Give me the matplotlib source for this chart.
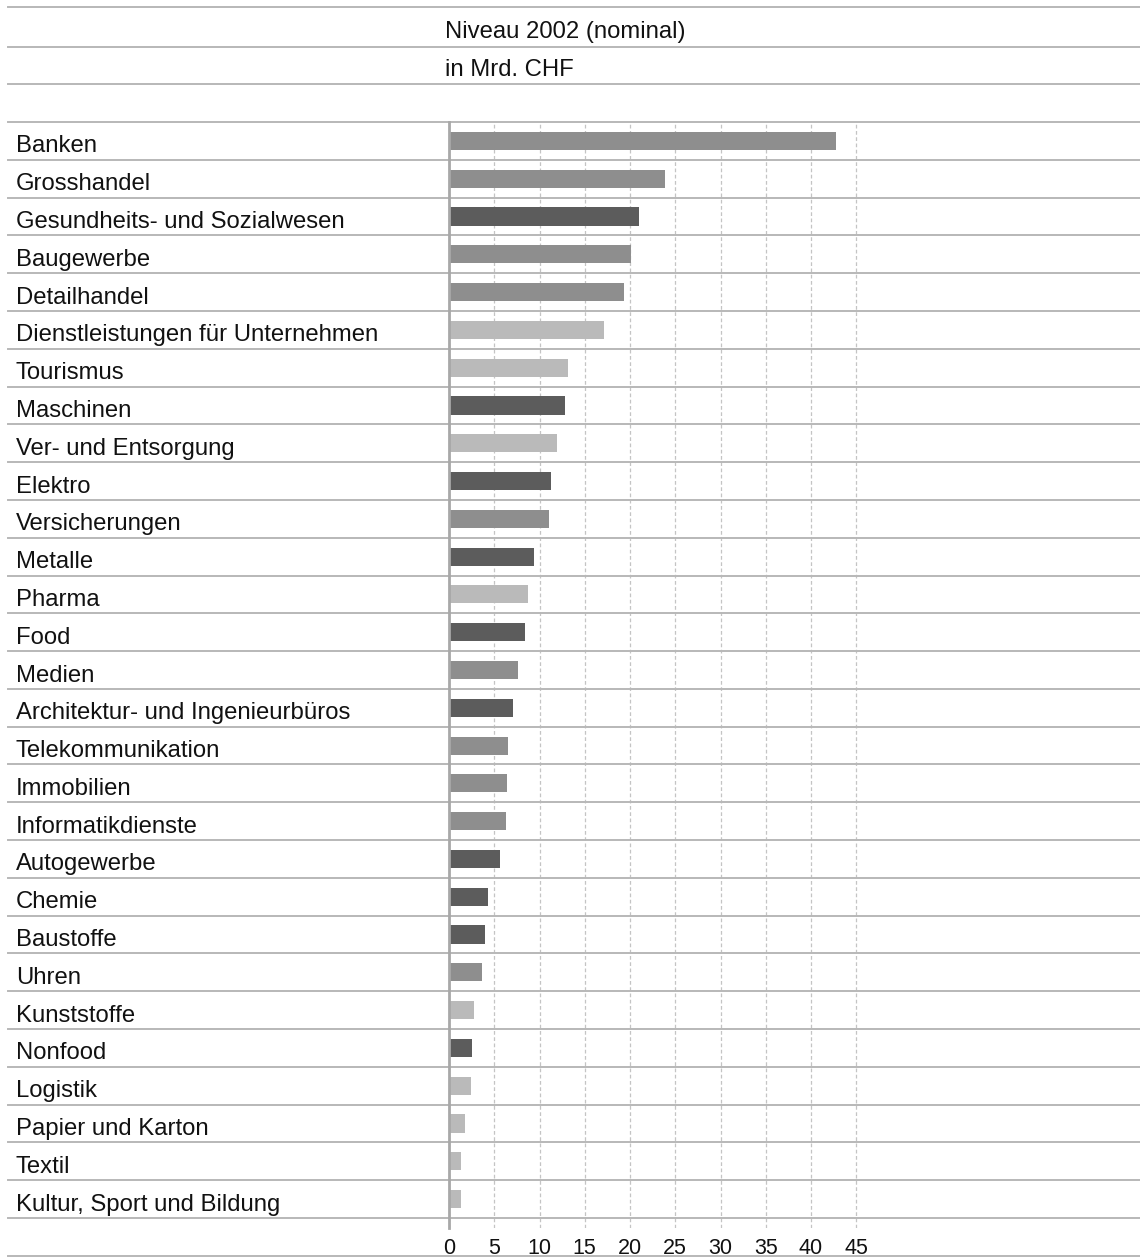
import matplotlib
matplotlib.use('Agg')
import matplotlib.pyplot as plt
import numpy as np

# sectors, nominal level 2002 in bn CHF
sectors = ['Banken', 'Grosshandel', 'Gesundheits- und Sozialwesen', 'Baugewerbe',
           'Detailhandel', 'Dienstleistungen für Unternehmen', 'Tourismus', 'Maschinen',
           'Ver- und Entsorgung', 'Elektro', 'Versicherungen', 'Metalle', 'Pharma', 'Food',
           'Medien', 'Architektur- und Ingenieurbüros', 'Telekommunikation', 'Immobilien',
           'Informatikdienste', 'Autogewerbe', 'Chemie', 'Baustoffe', 'Uhren',
           'Kunststoffe', 'Nonfood', 'Logistik', 'Papier und Karton', 'Textil',
           'Kultur, Sport und Bildung']
values = [42.8, 23.9, 21.0, 20.1, 19.3, 17.1, 13.1, 12.8, 11.9, 11.3, 11.0, 9.4, 8.7, 8.4,
          7.6, 7.1, 6.5, 6.4, 6.3, 5.6, 4.3, 4.0, 3.6, 2.8, 2.5, 2.4, 1.8, 1.3, 1.3]
# shading group of each bar (1 = mid grey, 2 = dark grey, 3 = light grey)
groups = [1, 1, 2, 1, 1, 3, 3, 2, 3, 2, 1, 2, 3, 2, 1, 2, 1, 1, 1, 2, 2, 2, 1, 3, 2, 3, 3, 3, 3]
xticks = [0, 5, 10, 15, 20, 25, 30, 35, 40, 45]

group_colors = {1: '#8e8e8e', 2: '#5c5c5c', 3: '#bababa'}
line_col = '#b8b8b8'
txt_col = '#111111'
plt.rcParams['font.family'] = ['Liberation Sans', 'DejaVu Sans']

W, H = 1140, 1257
fig = plt.figure(figsize=(W / 100, H / 100), dpi=100)

# axes in pixel terms
x0, x1 = 449, 1140
top, rows_bottom = 122, 1218
n = len(sectors)
row_h = (rows_bottom - top) / n
ax_bottom = 1228
ax = fig.add_axes([x0 / W, 1 - ax_bottom / H, (x1 - x0) / W, (ax_bottom - top) / H])

px_per_unit = 9.05
ax.set_xlim(0, (x1 - x0) / px_per_unit)
ax.set_ylim(n - 0.5 + (ax_bottom - rows_bottom) / row_h, -0.5)

y = np.arange(n)
ax.barh(y, values, height=0.48, color=[group_colors[g] for g in groups], zorder=3)

# dashed grid
ax.set_xticks(xticks)
ax.grid(axis='x', ls=(0, (3, 2)), color='#c4c4c4', lw=0.9, zorder=1)
ax.set_yticks([])
ax.tick_params(axis='x', length=0, labelsize=15.5, pad=7, colors=txt_col)
for s in ['top', 'right', 'bottom']:
    ax.spines[s].set_visible(False)
ax.spines['left'].set_color('#a8a8a8')
ax.spines['left'].set_linewidth(2)
ax.spines['left'].set_zorder(4)

# row separators across whole width
xmin_ax = (8 - x0) / (x1 - x0)
for i in range(n + 1):
    ax.axhline(i - 0.5, xmin=xmin_ax, xmax=1, color=line_col, lw=1.4, clip_on=False, zorder=2)

# row labels
for i, s in enumerate(sectors):
    base = top + (i + 0.5) * row_h + 11.5
    fig.text(16 / W, 1 - base / H, s, fontsize=17.2, va='baseline', ha='left', color=txt_col)

# header lines and texts
for yy in [7, 47, 84, 1256]:
    fig.add_artist(plt.Line2D([8 / W, 1], [1 - yy / H, 1 - yy / H], color=line_col, lw=1.4))
fig.text(445 / W, 1 - 38 / H, 'Niveau 2002 (nominal)', fontsize=17.2, va='baseline', ha='left', color=txt_col)
fig.text(445 / W, 1 - 76 / H, 'in Mrd. CHF', fontsize=17.2, va='baseline', ha='left', color=txt_col)

fig.savefig('out.png', dpi=100)
